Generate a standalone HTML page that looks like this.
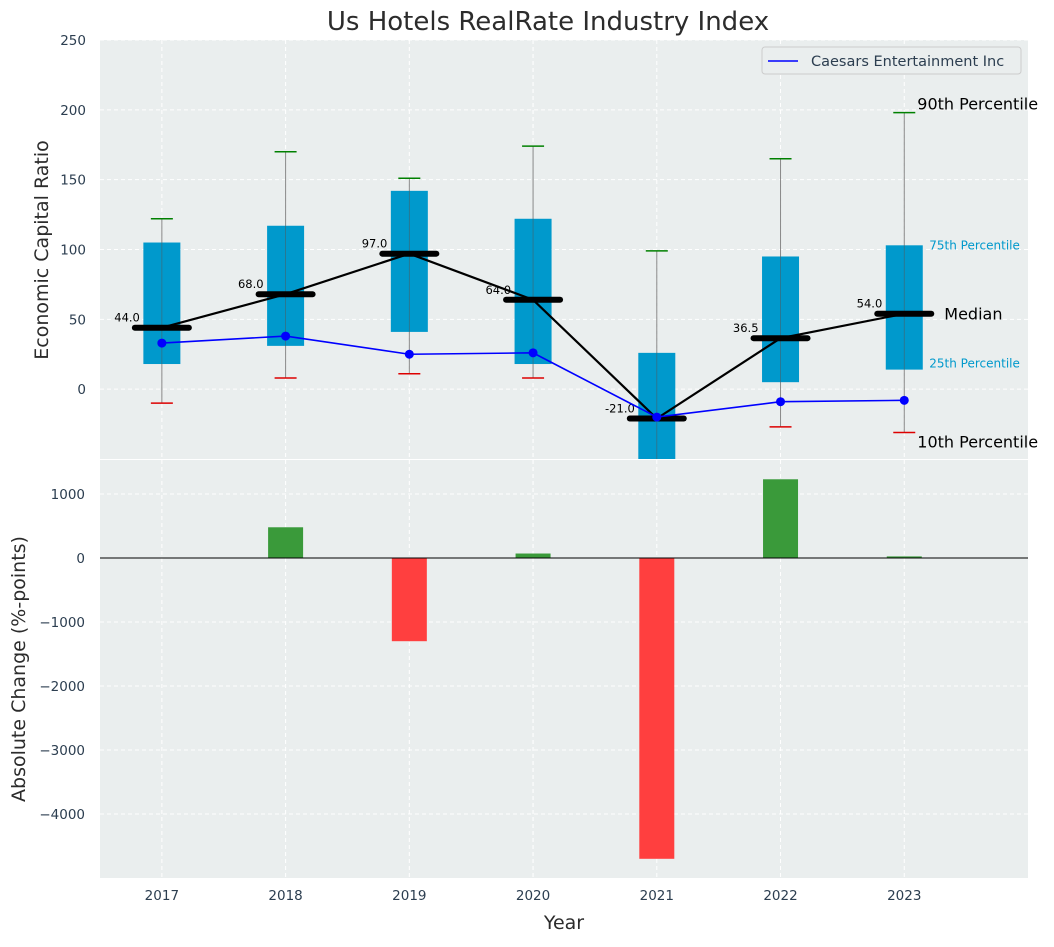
<!DOCTYPE html>
<html><head><meta charset="utf-8"><style>
body{margin:0;background:#fff;font-family:"Liberation Sans","DejaVu Sans",sans-serif}
svg text{font-family:"DejaVu Sans","Liberation Sans",sans-serif}
</style></head><body>
<svg id="chart" width="1054" height="942" xmlns="http://www.w3.org/2000/svg"></svg>
<script>
const years=[2017,2018,2019,2020,2021,2022,2023];
const p10=[-10,8,11,8,-80,-27,-31];
const p25=[18,31,41,18,-60,5,14];
const medians=[44,68,97,64,-21,36.5,54];
const p75=[105,117,142,122,26,95,103];
const p90=[122,170,151,174,99,165,198];
const caesars=[33,38,25,26,-20,-9,-8];
const changes=[0,480,-1300,70,-4700,1230,25];
const topTicks=[0,50,100,150,200,250];
const botTicks=[-4000,-3000,-2000,-1000,0,1000];

const NS="http://www.w3.org/2000/svg";
const svg=document.getElementById('chart');
function el(tag,attrs,parent){const e=document.createElementNS(NS,tag);for(const k in attrs)e.setAttribute(k,attrs[k]);(parent||svg).appendChild(e);return e;}
const L=100,R=1028;
const x=v=>L+(v-2016.5)*(R-L)/7.5;
const T0=40,T1=459,B0=460,B1=878;
const yT=v=>T0+(250-v)*(T1-T0)/300;
const yB=v=>558-v*0.064;

let e=el('rect',{x:L,y:T0,width:R-L,height:T1-T0,fill:'#eaeeee'});

e=el('rect',{x:L,y:B0,width:R-L,height:B1-B0,fill:'#eaeeee'});


years.forEach(yr=>{
 el('line',{x1:x(yr),x2:x(yr),y1:T0,y2:T1,stroke:'#fff','stroke-dasharray':'4,3','stroke-width':1});
 el('line',{x1:x(yr),x2:x(yr),y1:B0,y2:B1,stroke:'#fff','stroke-dasharray':'4,3','stroke-width':1});
 const t=el('text',{x:x(yr),y:B1+22,'text-anchor':'middle','font-size':13.5,fill:'#2c3e50'});t.textContent=yr;
 
});
topTicks.forEach(v=>{
 el('line',{x1:L,x2:R,y1:yT(v),y2:yT(v),stroke:'#fff','stroke-dasharray':'4,3'});
 const t=el('text',{x:L-14,y:yT(v)+5,'text-anchor':'end','font-size':13.5,fill:'#2c3e50'});t.textContent=v;
 
});
botTicks.forEach(v=>{
 el('line',{x1:L,x2:R,y1:yB(v),y2:yB(v),stroke:'#fff','stroke-dasharray':'4,3'});
 const t=el('text',{x:L-15,y:yB(v)+5,'text-anchor':'end','font-size':13.5,fill:'#2c3e50'});t.textContent=v<0?'−'+(-v):v;
 
});

const defs=el('defs',{});const cp=el('clipPath',{id:'ct'},defs);el('rect',{x:L,y:T0,width:R-L,height:T1-T0},cp);
const g=el('g',{'clip-path':'url(#ct)'});
years.forEach((yr,i)=>{
 const cx=x(yr);
 e=el('line',{x1:cx,x2:cx,y1:yT(p10[i]),y2:yT(p90[i]),stroke:'#888','stroke-width':1},g);
 
 e=el('rect',{x:cx-18.5,y:yT(p75[i]),width:37,height:yT(p25[i])-yT(p75[i]),fill:'#0099cc'},g);
 
 el('line',{x1:cx,x2:cx,y1:yT(p75[i]),y2:yT(p25[i]),stroke:'#555','stroke-width':0.8,opacity:0.6},g);
 e=el('line',{x1:cx-11,x2:cx+11,y1:yT(p90[i]),y2:yT(p90[i]),stroke:'green','stroke-width':1.5},g);
 
 e=el('line',{x1:cx-11,x2:cx+11,y1:yT(p10[i]),y2:yT(p10[i]),stroke:'#d00','stroke-width':1.5},g);
 
});
e=el('polyline',{points:years.map((yr,i)=>x(yr)+','+yT(medians[i])).join(' '),fill:'none',stroke:'#000','stroke-width':2.2},g);

years.forEach((yr,i)=>{
 const cx=x(yr);
 e=el('line',{x1:cx-27,x2:cx+27,y1:yT(medians[i]),y2:yT(medians[i]),stroke:'#000','stroke-width':6,'stroke-linecap':'round'},g);
 
 const t=el('text',{x:cx-22,y:yT(medians[i])-6,'text-anchor':'end','font-size':11.5,fill:'#000'},g);t.textContent=medians[i].toFixed(1);
 
});
e=el('polyline',{points:years.map((yr,i)=>x(yr)+','+yT(caesars[i])).join(' '),fill:'none',stroke:'#0000ff','stroke-width':1.6},g);

years.forEach((yr,i)=>{e=el('circle',{cx:x(yr),cy:yT(caesars[i]),r:4.5,fill:'#0000ff'},g);
 });

const last=6,lx=x(years[last]);
[['90th Percentile',lx+13,yT(p90[last])-3,16,'#000'],['75th Percentile',lx+25,yT(p75[last])+4,12,'#0099cc'],
 ['Median',lx+40,yT(medians[last])+6,16,'#000'],['25th Percentile',lx+25,yT(p25[last])-2,12,'#0099cc'],
 ['10th Percentile',lx+13,yT(p10[last])+15,16,'#000']].forEach(a=>{
 const t=el('text',{x:a[1],y:a[2],'font-size':a[3],fill:a[4]});t.textContent=a[0];
 });

e=el('rect',{x:762,y:47,width:259,height:27,fill:'#eaeeee',stroke:'#ccc',rx:3});

el('line',{x1:768,x2:798,y1:61,y2:61,stroke:'#0000ff','stroke-width':1.6});
let t=el('text',{x:811,y:66,'font-size':14.5,fill:'#2c3e50'});t.textContent='Caesars Entertainment Inc';


years.forEach((yr,i)=>{
 const v=changes[i];const y1=yB(Math.max(v,0)),y2=yB(Math.min(v,0));
 e=el('rect',{x:x(yr)-17.5,y:y1,width:35,height:y2-y1,fill:v>=0?'#3a9a3a':'#ff3f3f'});
 
});
el('line',{x1:L,x2:R,y1:yB(0),y2:yB(0),stroke:'#000','stroke-width':1});

t=el('text',{x:548,y:30,'text-anchor':'middle','font-size':26,fill:'#2c2c2c'});t.textContent='Us Hotels RealRate Industry Index';

t=el('text',{x:564,y:929,'text-anchor':'middle','font-size':19,fill:'#2c2c2c'});t.textContent='Year';

t=el('text',{x:0,y:0,'text-anchor':'middle','font-size':19,fill:'#2c2c2c',transform:'translate(48,250) rotate(-90)'});t.textContent='Economic Capital Ratio';

t=el('text',{x:0,y:0,'text-anchor':'middle','font-size':19,fill:'#2c2c2c',transform:'translate(25,669) rotate(-90)'});t.textContent='Absolute Change (%-points)';

</script>
</body></html>
